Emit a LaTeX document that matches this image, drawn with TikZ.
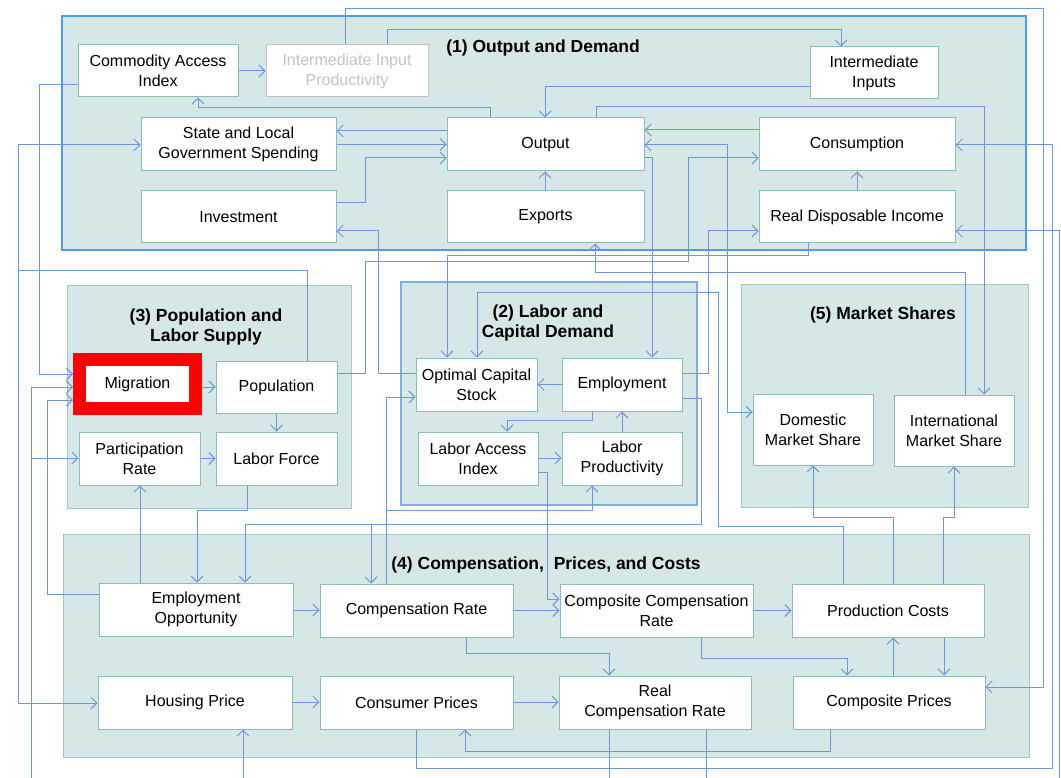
\documentclass[tikz,border=0pt]{standalone}
\usepackage{fontspec}
\setmainfont{Liberation Sans}
\usetikzlibrary{arrows.meta}

\definecolor{linkblue}{HTML}{6E96D8}
\definecolor{groupfill}{HTML}{D5E7E6}
\definecolor{groupline}{HTML}{A3C9C3}
\definecolor{boxline}{HTML}{8EBDB6}
\definecolor{outerblue}{HTML}{4C9CF2}
\definecolor{innerblue}{HTML}{7FAEE0}
\definecolor{fadedgray}{HTML}{C4C4C4}

\tikzset{
    box/.style={draw=boxline, fill=white, line width=1pt, align=center, inner sep=0pt,
        font=\fontsize{16}{20}\selectfont},
    grouptitle/.style={font=\fontsize{17.5}{20}\selectfont\bfseries, align=center},
    link/.style={draw=linkblue, line width=1pt, ->},
    plainlink/.style={draw=linkblue, line width=1pt},
    >={Straight Barb[length=6pt,width=12pt]}
}

\begin{document}
\begin{tikzpicture}[x=1pt,y=-1pt]
    \useasboundingbox (0,0) rectangle (1061,778);

    % groups
    \fill[groupfill, draw=outerblue, line width=2.5pt] (62,16) rectangle (1026,250);
    \fill[groupfill, draw=groupline] (67,285) rectangle (351,508);
    \fill[groupfill, draw=innerblue, line width=1.2pt] (401,282) rectangle (697,505);
    \fill[groupfill, draw=groupline] (741,284) rectangle (1028,507);
    \fill[groupfill, draw=groupline] (63,534) rectangle (1029,757);

    \node[grouptitle] (t1) at (543,48) {(1) Output and Demand};
    \node[grouptitle] (t3) at (206,327) {(3) Population and\\Labor Supply};
    \node[grouptitle] (t2) at (548,323) {(2) Labor and\\Capital Demand};
    \node[grouptitle] (t5) at (883,315) {(5) Market Shares};
    \node[grouptitle] (t4) at (546,565) {(4) Compensation,~ Prices, and Costs};

    % (1) output and demand
    \node[box, minimum width=160pt, minimum height=52pt] (cai) at (158,71) {Commodity Access\\Index};
    \node[box, draw=fadedgray, text=fadedgray, minimum width=162pt, minimum height=52pt] (iip) at (347,71) {Intermediate Input\\Productivity};
    \node[box, minimum width=128pt, minimum height=52pt] (ii) at (874,73) {Intermediate\\Inputs};
    \node[box, minimum width=195pt, minimum height=53pt] (slg) at (238.5,144.5) {State and Local\\Government Spending};
    \node[box, minimum width=197pt, minimum height=53pt] (out) at (545.5,144.5) {Output};
    \node[box, minimum width=196pt, minimum height=53pt] (cons) at (857,144.5) {Consumption};
    \node[box, minimum width=195pt, minimum height=52pt] (inv) at (238.5,217) {Investment};
    \node[box, minimum width=197pt, minimum height=52pt] (exp) at (545.5,217) {Exports};
    \node[box, minimum width=196pt, minimum height=52pt] (rdi) at (857,217) {Real Disposable Income};

    % (3) population and labor supply
    \node[box, draw=red, line width=13pt, minimum width=116pt, minimum height=49pt] (mig) at (137.5,384) {\raisebox{-3pt}{Migration}};
    \node[box, minimum width=121pt, minimum height=52pt] (pop) at (276.5,387) {Population};
    \node[box, minimum width=121pt, minimum height=53pt] (pr) at (139.5,458.5) {Participation\\Rate};
    \node[box, minimum width=121pt, minimum height=53pt] (lf) at (276.5,458.5) {Labor Force};

    % (2) labor and capital demand
    \node[box, minimum width=121pt, minimum height=53pt] (ocs) at (476.5,384.5) {Optimal Capital\\Stock};
    \node[box, minimum width=120pt, minimum height=53pt] (emp) at (622,384.5) {Employment};
    \node[box, minimum width=120pt, minimum height=53pt] (lai) at (478,458.5) {Labor Access\\Index};
    \node[box, minimum width=120pt, minimum height=53pt] (lp) at (622,458.5) {Labor\\Productivity};

    % (5) market shares
    \node[box, minimum width=120pt, minimum height=71pt] (dms) at (813,429.5) {Domestic\\Market Share};
    \node[box, minimum width=120pt, minimum height=71pt] (ims) at (954,430.5) {International\\Market Share};

    % (4) compensation, prices and costs
    \node[box, minimum width=194pt, minimum height=53pt] (eo) at (196,609.5) {Employment\\Opportunity};
    \node[box, minimum width=193pt, minimum height=53pt] (cr) at (416.5,610.5) {Compensation Rate};
    \node[box, minimum width=193pt, minimum height=53pt] (ccr) at (656.5,610.5) {Composite Compensation\\Rate};
    \node[box, minimum width=192pt, minimum height=53pt] (pc) at (888,610.5) {Production Costs};
    \node[box, minimum width=194pt, minimum height=53pt] (hp) at (195,702.5) {Housing Price};
    \node[box, minimum width=193pt, minimum height=53pt] (conp) at (416.5,702.5) {Consumer Prices};
    \node[box, minimum width=192pt, minimum height=53pt] (rcr) at (655,702.5) {Real\\Compensation Rate};
    \node[box, minimum width=192pt, minimum height=53pt] (comp) at (889,702.5) {Composite Prices};

    % free ends and junctions
    \coordinate (crj) at (386,510);
    \coordinate (empj) at (371,524);
    \coordinate (popj) at (18,271);
    \coordinate (prj) at (31,458);
    \coordinate (migin) at (31,778);
    \coordinate (hpin) at (243,778);
    \coordinate (rdiin) at (1059,778);

    % links inside (1)
    \draw[link] (cai.east) -- (iip.west);
    \draw[link] (out.north -| 490,0) |- (198,108) -- (cai.south -| 198,0);
    \draw[link] (iip.north -| 387,0) |- (841,30) -- (ii.north -| 841,0);
    \draw[link] (ii.west |- 0,87) -| (out.north -| 545,0);
    \draw[link] (out.west |- 0,131) -- (slg.east |- 0,131);
    \draw[link] (slg.east) -- (out.west);
    \draw[link] (inv.east |- 0,203) -| (365,158) -- (out.west |- 0,158);
    \draw[link] (cons.west |- 0,130) -- (out.east |- 0,130);
    \draw[link] (exp.north -| 545,0) -- (out.south -| 545,0);
    \draw[link] (rdi.north) -- (cons.south);

    % long links
    \draw[link] (iip.north -| 345,0) |- (1043,9) |- (comp.east |- 0,687);
    \draw[link] (out.north -| 596,0) |- (984,107) -- (ims.north -| 984,0);
    \draw[link, <->] (out.east |- 0,145) -| (727,412) -- (dms.west |- 0,412);
    \draw[link] (out.east |- 0,158) -| (emp.north -| 652,0);
    \draw[link] (pop.east |- 0,373) -| (365,262) -| (688,158) -- (cons.west |- 0,158);
    \draw[link] (emp.east |- 0,373) -| (708,231) -- (rdi.west |- 0,231);
    \draw[link] (rdi.south -| 808,0) |- (447,256) -- (ocs.north -| 447,0);
    \draw[link] (ocs.west |- 0,373) -| (378,231) -- (inv.east |- 0,231);
    \draw[link] (ims.north -| 965,0) |- (595,273) -- (exp.south -| 595,0);
    \draw[link] (pc.north -| 843,0) |- (718,526) |- (477,293) -- (ocs.north -| 477,0);
    \draw[link] (conp.south -| 416,0) |- (1052,768) |- (cons.east |- 0,145);
    \draw[link] (rdiin) |- (rdi.east |- 0,231);

    % links inside (2)
    \draw[link] (emp.west) -- (ocs.east);
    \draw[link] (emp.south -| 592,0) |- (507,420) -- (lai.north -| 507,0);
    \draw[link] (lai.east |- 0,458) -- (lp.west |- 0,458);
    \draw[link] (lp.north) -- (emp.south);
    \draw[link] (cr.north -| 386,0) |- (ocs.west |- 0,397);
    \draw[link] (crj) -| (lp.south -| 592,0);
    \draw[link] (lai.east |- 0,472) -| (547,599) -- (ccr.west |- 0,599);
    \draw[link] (emp.east |- 0,398) -| (701,524) -| (eo.north -| 245,0);
    \draw[link] (empj) -- (cr.north -| 371,0);

    % links to (5)
    \draw[link] (pc.north -| 893,0) |- (813,517) -- (dms.south -| 813,0);
    \draw[link] (pc.north -| 943,0) |- (954,517) -- (ims.south -| 954,0);

    % links inside (3) and on the left
    \draw[link] (mig.east |- 0,387) -- (pop.west |- 0,387);
    \draw[link] (pop.south) -- (lf.north);
    \draw[link] (pr.east) -- (lf.west);
    \draw[link] (lf.south -| 247,0) |- (197,510) -- (eo.north -| 197,0);
    \draw[link] (eo.north -| 140,0) -- (pr.south -| 140,0);
    \draw[link] (eo.west |- 0,594) -| (47,400) -- (mig.west |- 0,400);
    \draw[link] (cai.west |- 0,85) -| (39,374) -- (mig.west |- 0,374);
    \draw[link] (migin) |- (mig.west |- 0,387);
    \draw[link] (prj) -- (pr.west |- 0,458);
    \draw[link] (pop.north -| 307,0) |- (18,271) |- (slg.west |- 0,145);
    \draw[link] (popj) |- (hp.west |- 0,703);

    % links inside (4)
    \draw[link] (eo.east |- 0,610) -- (cr.west |- 0,610);
    \draw[link] (cr.east) -- (ccr.west);
    \draw[link] (ccr.east) -- (pc.west);
    \draw[link] (cr.south -| 466,0) |- (609,653) -- (rcr.north -| 609,0);
    \draw[link] (ccr.south -| 701,0) |- (847,658) -- (comp.north -| 847,0);
    \draw[link] (comp.north -| 893,0) -- (pc.south -| 893,0);
    \draw[link] (pc.south -| 944,0) -- (comp.north -| 944,0);
    \draw[link] (hp.east |- 0,702) -- (conp.west |- 0,702);
    \draw[link] (conp.east |- 0,702) -- (rcr.west |- 0,702);
    \draw[link] (comp.south -| 830,0) |- (465,751) -- (conp.south -| 465,0);
    \draw[link] (hpin) -- (hp.south -| 243,0);
    \draw[plainlink] (rcr.south -| 609,0) -- (609,778);
    \draw[plainlink] (rcr.south -| 706,0) -- (706,778);
\end{tikzpicture}
\end{document}
